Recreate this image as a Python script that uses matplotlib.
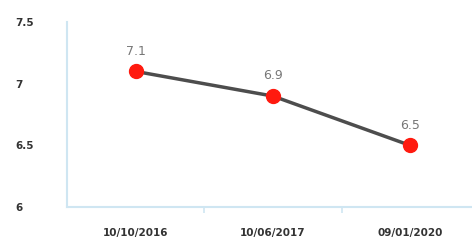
import numpy as np
from matplotlib import pyplot as plt

dates = ["10/10/2016", "10/06/2017", "09/01/2020"]
values = [7.1, 6.9, 6.5]
yticks = [6, 6.5, 7, 7.5]
ytick_labels = ["6", "6.5", "7", "7.5"]

fig = plt.figure(figsize=[4.72, 2.4], dpi=100)
ax = fig.add_axes([0.142, 0.137, 0.858, 0.771])

x = np.arange(len(dates))
ax.plot(x, values, color="#4d4d4d", lw=2.5, zorder=2)
ax.plot(x, values, "o", color="#ff1a0f", ms=10, zorder=3)
for xi, v in zip(x, values):
    ax.annotate(str(v), (xi, v), xytext=(0, 10), textcoords="offset points",
                ha="center", va="bottom", fontsize=9, color="#777777")

ax.set_xlim(-0.5, 2.45)
ax.set_ylim(6, 7.5)
ax.set_xticks(x)
ax.set_xticklabels(dates, fontsize=7.5, fontweight="bold", color="#333333")
ax.set_xticks([0.5, 1.5], minor=True)
ax.set_yticks(yticks)
ax.set_yticklabels(ytick_labels, fontsize=7.5, fontweight="bold", color="#333333",
                   ha="left")
ax.tick_params(axis="y", length=0, pad=37)
ax.tick_params(axis="x", which="major", length=0, pad=15)
ax.tick_params(axis="x", which="minor", length=4, color="#cfe6f2", width=1.2)

for s in ["top", "right"]:
    ax.spines[s].set_visible(False)
for s in ["left", "bottom"]:
    ax.spines[s].set_color("#cfe6f2")
    ax.spines[s].set_linewidth(1.5)

fig.savefig("out.png", dpi=100)
